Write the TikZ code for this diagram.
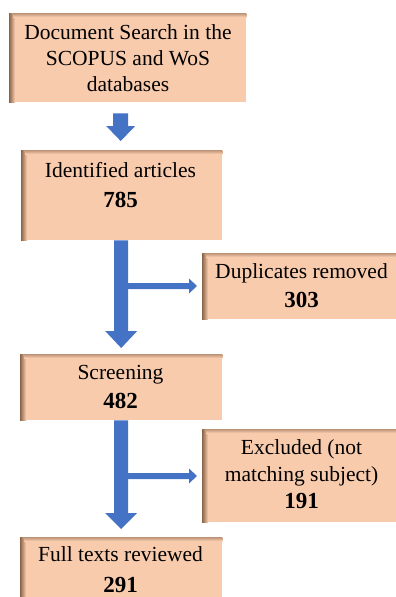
\documentclass[tikz,border=0pt]{standalone}
\usepackage{fontspec}
\setmainfont{Liberation Serif}
\usetikzlibrary{calc}
\definecolor{peach}{HTML}{F8CBAD}
\definecolor{shadowc}{HTML}{8A6448}
\definecolor{arrowc}{HTML}{4472C4}
\tikzset{
  box/.style={fill=peach, draw=none, inner sep=0pt, anchor=north west},
  txt/.style={inner sep=0pt, anchor=base, font=\fontsize{21.5}{26}\selectfont},
  num/.style={txt, font=\fontsize{23}{26}\selectfont\bfseries},
}
% inner shadow of a box
\newcommand\innershade[1]{%
  \shade[left color=shadowc, right color=peach] (#1.north west) rectangle ([xshift=6pt]#1.south west);
  \shade[top color=shadowc!55!peach, bottom color=peach] ([xshift=4pt]#1.north west) rectangle ([yshift=-4pt]#1.north east);
}
% vertical block arrow: start, tip, half shaft, half head, head length
\newcommand\vblock[5]{%
  \fill[arrowc] ($(#1)+(-#3,0)$) -- ($(#2)+(-#3,-#5)$) -- ($(#2)+(-#4,-#5)$) -- (#2)
    -- ($(#2)+(#4,-#5)$) -- ($(#2)+(#3,-#5)$) -- ($(#1)+(#3,0)$) -- cycle;}
% horizontal block arrow: start, tip, half shaft, half head, head length
\newcommand\hblock[5]{%
  \fill[arrowc] ($(#1)+(0,-#3)$) -- ($(#2)+(-#5,-#3)$) -- ($(#2)+(-#5,-#4)$) -- (#2)
    -- ($(#2)+(-#5,#4)$) -- ($(#2)+(-#5,#3)$) -- ($(#1)+(0,#3)$) -- cycle;}
\begin{document}
\begin{tikzpicture}[x=1pt,y=-1pt]
\useasboundingbox (0,0) rectangle (396,597);
% boxes
\node[box, minimum width=237pt, minimum height=89pt] (b1) at (9,13) {};
\node[box, minimum width=201pt, minimum height=90pt] (b2) at (21,150) {};
\node[box, minimum width=194pt, minimum height=66pt] (b3) at (202,253) {};
\node[box, minimum width=202pt, minimum height=66pt] (b4) at (20,354) {};
\node[box, minimum width=194pt, minimum height=93pt] (b5) at (202,429) {};
\node[box, minimum width=202pt, minimum height=60pt] (b6) at (20,537) {};
\innershade{b1}\innershade{b2}\innershade{b3}\innershade{b4}\innershade{b5}\innershade{b6}
% texts
\node[txt] (t1a) at (128,39) {Document Search in the};
\node[txt] (t1b) at (128,65) {SCOPUS and WoS};
\node[txt] (t1c) at (128,91) {databases};
\node[txt] (t2a) at (120.5,177) {Identified articles};
\node[num] (t2b) at (120.5,207) {785};
\node[txt] (t3a) at (301.5,278) {Duplicates removed};
\node[num] (t3b) at (301.5,307) {303};
\node[txt] (t4a) at (120.5,379) {Screening};
\node[num] (t4b) at (120.5,408) {482};
\node[txt] (t5a) at (301.5,454) {Excluded (not};
\node[txt] (t5b) at (301.5,481) {matching subject)};
\node[num] (t5c) at (301.5,508) {191};
\node[txt] (t6a) at (120.5,561) {Full texts reviewed};
\node[num] (t6b) at (120.5,592) {291};
% arrow coordinates
\coordinate (a1s) at ($(b1.south)+(-7,11)$);
\coordinate (a1t) at ($(b2.north)+(-1,-9)$);
\coordinate (a2s) at ($(b2.south)+(-0.5,0)$);
\coordinate (a2t) at ($(b4.north)+(0,-6)$);
\coordinate (a3s) at ($(b4.south)+(0,0)$);
\coordinate (a3t) at ($(b6.north)+(0,-8)$);
\coordinate (br1s) at (121,286);
\coordinate (br1t) at ($(b3.west |- br1s)+(-5,0)$);
\coordinate (br2s) at (121,476);
\coordinate (br2t) at ($(b5.west |- br2s)+(-5,0)$);
% arrows
\vblock{a1s}{a1t}{7.5}{14.5}{15}
\vblock{a2s}{a2t}{7}{16}{17}
\vblock{a3s}{a3t}{7}{16}{16}
\hblock{br1s}{br1t}{3}{7.5}{8}
\hblock{br2s}{br2t}{3}{7.5}{8}
\end{tikzpicture}
\end{document}
